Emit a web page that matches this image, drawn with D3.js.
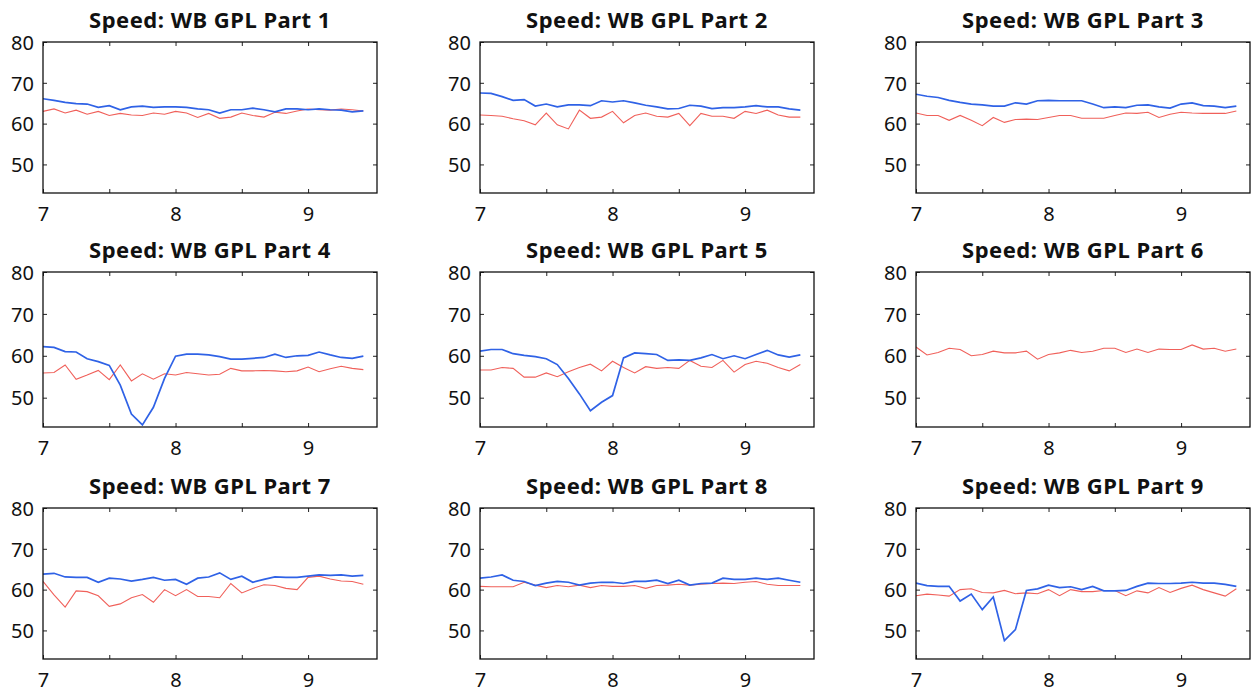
<!DOCTYPE html>
<html>
<head>
<meta charset="utf-8">
<script src="https://cdn.jsdelivr.net/npm/d3@7"></script>
<style>
  body { margin: 0; background: #fff; }
  text { font-family: "Noto Sans", "DejaVu Sans", sans-serif; fill: #111; }
  .title { font-weight: bold; font-size: 22px; letter-spacing: 0.5px; }
  .tick text { font-size: 20px; }
</style>
</head>
<body>
<div id="chart"></div>
<script>
// time of day, hours (5 minute steps)
var hours = [7.000, 7.083, 7.167, 7.250, 7.333, 7.417, 7.500, 7.583, 7.667, 7.750,
             7.833, 7.917, 8.000, 8.083, 8.167, 8.250, 8.333, 8.417, 8.500, 8.583,
             8.667, 8.750, 8.833, 8.917, 9.000, 9.083, 9.167, 9.250, 9.333, 9.417];

var partNames = ['Part 1', 'Part 2', 'Part 3', 'Part 4', 'Part 5', 'Part 6', 'Part 7', 'Part 8', 'Part 9'];

var xTicks = [7, 7.5, 8, 8.5, 9];
var yTicks = [50, 60, 70, 80];

// blue series
var blue1 = [66.1, 65.7, 65.2, 64.9, 64.8, 64.0, 64.4, 63.4, 64.1, 64.3, 64.0, 64.1, 64.1, 64.0, 63.6,
             63.4, 62.6, 63.4, 63.4, 63.8, 63.4, 62.9, 63.6, 63.6, 63.4, 63.6, 63.4, 63.3, 62.9, 63.1];
var blue2 = [67.5, 67.4, 66.6, 65.7, 65.9, 64.3, 64.8, 64.1, 64.6, 64.6, 64.4, 65.6, 65.3, 65.6, 65.1,
             64.5, 64.1, 63.6, 63.7, 64.5, 64.3, 63.7, 63.9, 63.9, 64.1, 64.4, 64.1, 64.1, 63.6, 63.3];
var blue3 = [67.2, 66.7, 66.4, 65.7, 65.2, 64.8, 64.6, 64.3, 64.3, 65.1, 64.8, 65.6, 65.7, 65.6, 65.6,
             65.6, 64.8, 63.9, 64.1, 63.9, 64.5, 64.6, 64.1, 63.8, 64.8, 65.1, 64.4, 64.3, 63.9, 64.3];
var blue4 = [62.2, 62.0, 61.0, 60.9, 59.3, 58.6, 57.7, 53.0, 46.1, 43.5, 47.7, 54.6, 59.9, 60.4, 60.4,
             60.2, 59.8, 59.2, 59.2, 59.4, 59.6, 60.4, 59.6, 60.0, 60.1, 60.9, 60.2, 59.6, 59.4, 59.9];
var blue5 = [61.1, 61.5, 61.5, 60.5, 60.1, 59.8, 59.3, 57.9, 54.6, 50.9, 46.9, 48.9, 50.5, 59.5, 60.7,
             60.5, 60.3, 58.9, 59.0, 58.9, 59.5, 60.3, 59.3, 60.0, 59.3, 60.3, 61.3, 60.2, 59.7, 60.2];
var blue6 = [];
var blue7 = [63.8, 64.0, 63.1, 63.0, 63.0, 61.8, 62.8, 62.6, 62.1, 62.5, 63.0, 62.3, 62.5, 61.3, 62.8,
             63.1, 64.1, 62.5, 63.3, 61.8, 62.5, 63.1, 63.0, 63.0, 63.3, 63.6, 63.5, 63.6, 63.3, 63.5];
var blue8 = [62.8, 63.1, 63.6, 62.3, 62.0, 61.0, 61.6, 62.0, 61.8, 61.1, 61.6, 61.8, 61.8, 61.5, 62.0,
             62.0, 62.3, 61.5, 62.3, 61.1, 61.5, 61.6, 62.8, 62.5, 62.5, 62.8, 62.5, 62.8, 62.3, 61.8];
var blue9 = [61.6, 61.0, 60.8, 60.8, 57.2, 58.9, 55.1, 58.2, 47.5, 50.2, 59.8, 60.2, 61.1, 60.5, 60.7,
             60.0, 60.8, 59.7, 59.7, 59.8, 60.8, 61.6, 61.5, 61.5, 61.6, 61.8, 61.6, 61.6, 61.3, 60.8];

// red series
var red1 = [63.0, 63.6, 62.6, 63.3, 62.3, 63.0, 62.0, 62.5, 62.1, 62.0, 62.6, 62.3, 63.0, 62.6, 61.5,
            62.5, 61.3, 61.6, 62.6, 62.0, 61.6, 62.8, 62.5, 63.1, 63.6, 63.4, 63.3, 63.6, 63.4, 63.1];
var red2 = [62.1, 62.0, 61.8, 61.2, 60.7, 59.7, 62.6, 59.7, 58.7, 63.3, 61.3, 61.6, 63.0, 60.2, 62.0,
            62.6, 61.8, 61.6, 62.5, 59.5, 62.5, 61.8, 61.8, 61.3, 63.0, 62.5, 63.3, 62.1, 61.6, 61.6];
var red3 = [62.6, 62.0, 62.0, 60.8, 62.0, 60.8, 59.5, 61.5, 60.3, 61.0, 61.1, 61.0, 61.5, 62.0, 62.0,
            61.3, 61.3, 61.3, 62.0, 62.6, 62.5, 62.8, 61.5, 62.3, 62.8, 62.6, 62.5, 62.5, 62.5, 63.1];
var red4 = [55.9, 56.0, 57.8, 54.4, 55.4, 56.5, 54.3, 57.8, 54.0, 55.7, 54.4, 55.7, 55.4, 56.0, 55.7,
            55.4, 55.6, 57.0, 56.4, 56.4, 56.5, 56.4, 56.2, 56.4, 57.3, 56.2, 56.9, 57.5, 57.0, 56.7];
var red5 = [56.6, 56.6, 57.2, 57.0, 54.9, 54.9, 55.9, 55.0, 56.2, 57.2, 58.0, 56.4, 58.7, 57.2, 55.9,
            57.4, 57.0, 57.2, 57.0, 58.9, 57.5, 57.2, 58.9, 56.1, 57.9, 58.7, 58.2, 57.2, 56.4, 57.9];
var red6 = [62.1, 60.2, 60.8, 61.8, 61.5, 60.0, 60.3, 61.1, 60.7, 60.7, 61.1, 59.2, 60.3, 60.7, 61.3,
            60.8, 61.1, 61.8, 61.8, 60.8, 61.6, 60.8, 61.6, 61.5, 61.5, 62.6, 61.6, 61.8, 61.1, 61.6];
var red7 = [62.0, 58.7, 55.7, 59.7, 59.5, 58.5, 55.9, 56.5, 58.0, 58.8, 56.9, 60.0, 58.5, 60.0, 58.3,
            58.3, 58.0, 61.5, 59.2, 60.3, 61.2, 61.0, 60.3, 60.0, 63.0, 63.3, 62.6, 62.1, 62.0, 61.3];
var red8 = [60.8, 60.7, 60.7, 60.7, 61.8, 61.1, 60.5, 61.0, 60.7, 61.1, 60.5, 61.0, 60.8, 60.8, 61.0,
            60.3, 61.0, 61.1, 61.3, 61.1, 61.3, 61.5, 61.6, 61.5, 61.8, 62.0, 61.3, 61.0, 61.0, 61.0];
var red9 = [58.5, 58.9, 58.7, 58.4, 60.0, 60.2, 59.3, 59.2, 59.8, 59.0, 59.2, 59.0, 60.0, 58.5, 60.0,
            59.5, 59.5, 59.8, 59.8, 58.5, 59.7, 59.2, 60.5, 59.3, 60.3, 61.1, 60.0, 59.2, 58.4, 60.2];

var blueSeries = [blue1, blue2, blue3, blue4, blue5, blue6, blue7, blue8, blue9];
var redSeries = [red1, red2, red3, red4, red5, red6, red7, red8, red9];

var svgWidth = 1256;
var svgHeight = 696;

var svg = d3.select('#chart')
    .append('svg')
    .attr('width', svgWidth)
    .attr('height', svgHeight);

// panel boxes
var colLeft = [43, 480, 916];
var rowTop = [42, 272, 508];
var rowHeight = [151, 155, 151];
var width = 334;

partNames.forEach(function(name, i) {
    var col = i % 3;
    var row = Math.floor(i / 3);
    var height = rowHeight[row];

    var g = svg.append('g')
        .attr('transform', `translate(${colLeft[col]}, ${rowTop[row]})`);

    var x = d3.scaleLinear().domain([7, 9.52]).range([0, width]);
    var y = d3.scaleLinear().domain([43, 80]).range([height, 0]);

    g.append('defs').append('clipPath')
        .attr('id', 'clip' + i)
        .append('rect')
        .attr('width', width)
        .attr('height', height);

    // axes, ticks pointing inwards
    var bottom = g.append('g')
        .attr('transform', `translate(0, ${height})`)
        .call(d3.axisBottom(x).tickValues(xTicks).tickSize(-4).tickPadding(14)
            .tickFormat(d => Number.isInteger(d) ? d : ''));
    var top = g.append('g')
        .call(d3.axisTop(x).tickValues(xTicks).tickSize(-4).tickFormat(''));
    var left = g.append('g')
        .call(d3.axisLeft(y).tickValues(yTicks).tickSize(-4).tickPadding(9));
    var right = g.append('g')
        .attr('transform', `translate(${width}, 0)`)
        .call(d3.axisRight(y).tickValues(yTicks).tickSize(-4).tickFormat(''));

    [bottom, top, left, right].forEach(function(a) {
        a.select('.domain').remove();
        a.selectAll('.tick line').attr('stroke', '#222').attr('stroke-width', 1);
    });
    left.selectAll('.tick text').attr('dy', '0.36em');

    var line = d3.line()
        .x((d, k) => x(hours[k]))
        .y(d => y(d));

    if (redSeries[i].length) {
        g.append('path')
            .datum(redSeries[i])
            .attr('clip-path', `url(#clip${i})`)
            .attr('fill', 'none')
            .attr('stroke', '#f0605a')
            .attr('stroke-width', 1.1)
            .attr('d', line);
    }
    if (blueSeries[i].length) {
        g.append('path')
            .datum(blueSeries[i])
            .attr('clip-path', `url(#clip${i})`)
            .attr('fill', 'none')
            .attr('stroke', '#2f62e6')
            .attr('stroke-width', 1.7)
            .attr('d', line);
    }

    g.append('rect')
        .attr('width', width)
        .attr('height', height)
        .attr('fill', 'none')
        .attr('stroke', '#111')
        .attr('stroke-width', 1.3);

    g.append('text')
        .attr('class', 'title')
        .attr('x', width / 2)
        .attr('y', -14)
        .attr('text-anchor', 'middle')
        .text('Speed: WB GPL ' + name);
});
</script>
</body>
</html>
